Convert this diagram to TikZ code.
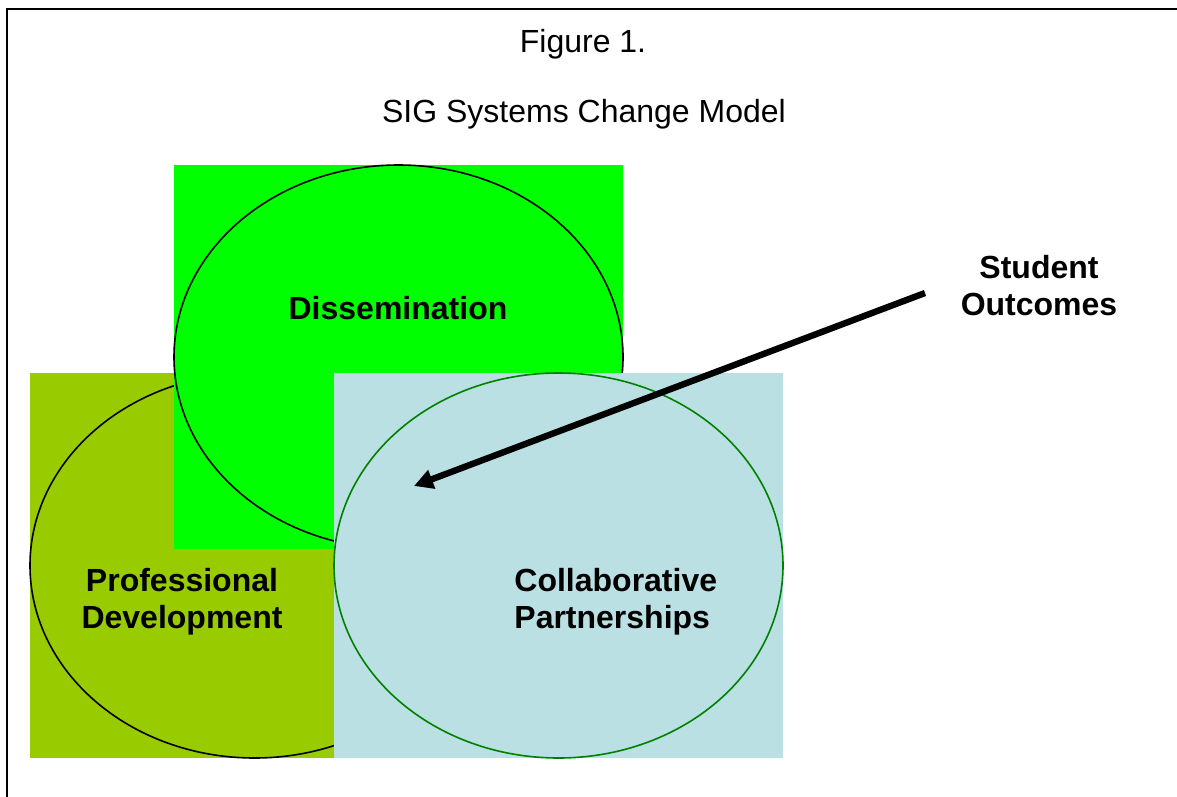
\documentclass[tikz,border=0pt]{standalone}
\usepackage{fontspec}
\setmainfont{Liberation Sans}
\usetikzlibrary{arrows.meta}
\definecolor{dissgreen}{HTML}{00FF00}
\definecolor{profgreen}{HTML}{99CC00}
\definecolor{partblue}{HTML}{BBE0E3}
\definecolor{partline}{HTML}{008000}
\begin{document}
\begin{tikzpicture}[x=0.5pt,y=-0.5pt]
\tikzstyle{every node}+=[inner sep=0pt,font=\fontsize{16}{18}\selectfont]
\tikzstyle{setname}=[font=\fontsize{16}{18.5}\selectfont\bfseries,align=center]
\useasboundingbox (0,0) rectangle (1177,797);
\draw [black,line width=1.25pt] (7,797) -- (7,9) -- (1177,9);
\node (fig) [anchor=base] at (583,53) {Figure 1.};
\node (title) [anchor=base] at (584,122) {SIG Systems Change Model};
\fill [profgreen] (30,373) rectangle (479,758);
\draw [black,line width=0.8pt] (254.5,565.5) ellipse [x radius=224.5,y radius=192.5];
\fill [dissgreen] (174,165) rectangle (623,549);
\draw [black,line width=0.8pt] (398.5,357) ellipse [x radius=224.5,y radius=192];
\fill [partblue] (334,373) rectangle (783,758);
\draw [partline,line width=0.8pt] (558.5,565.5) ellipse [x radius=224.5,y radius=192.5];
\node (diss) [setname,anchor=base] at (398,319) {Dissemination};
\node (prof) [setname] at (182,602) {Professional\\Development};
\node (part) [setname,align=left,anchor=west] at (514,602) {Collaborative\\Partnerships};
\node (outcomes) [setname] at (1039,286) {Student\\Outcomes};
\coordinate (arrowstart) at (925,293);
\coordinate (arrowtip) at (414,486);
\draw [black,line width=3.2pt,-{Triangle[length=9.5pt,width=9.5pt]}] (arrowstart) -- (arrowtip);
\end{tikzpicture}
\end{document}
